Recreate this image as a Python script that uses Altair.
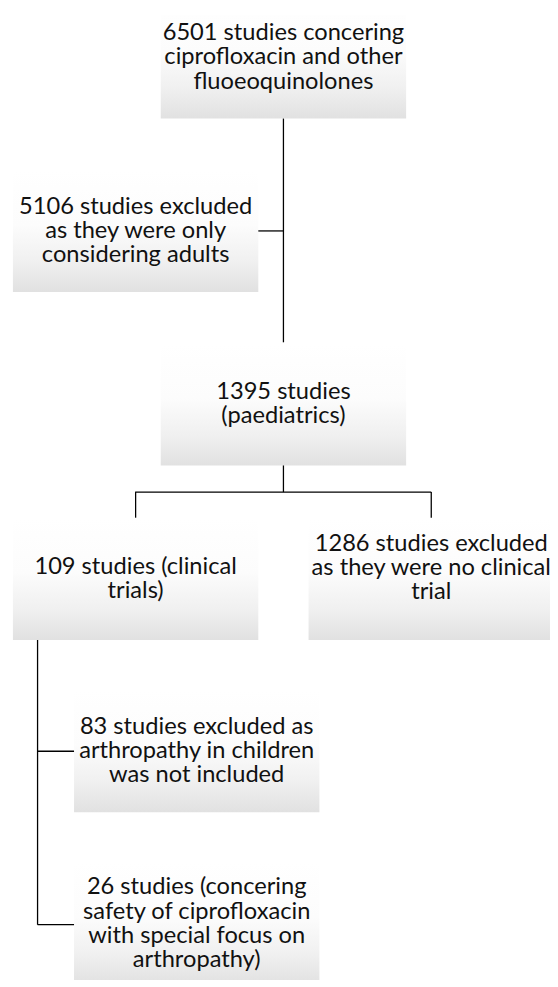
import altair as alt
import pandas as pd

# ---- content (text of each box) ----
labels = [
    "6501 studies concering\nciprofloxacin and other\nfluoeoquinolones",
    "5106 studies excluded\nas they were only\nconsidering adults",
    "1395 studies\n(paediatrics)",
    "109 studies (clinical\ntrials)",
    "1286 studies excluded\nas they were no clinical\ntrial",
    "83 studies excluded as\narthropathy in children\nwas not included",
    "26 studies (concering\nsafety of ciprofloxacin\nwith special focus on\narthropathy)",
]

# ---- layout (page pixel coordinates) ----
box_x0 = [163, 13, 163, 13, 313, 75, 75]
box_x1 = [412, 262, 412, 262, 562, 324, 324]
box_y0 = [-11, 165, 341, 518, 518, 693, 868]
box_y1 = [113, 289, 465, 642, 642, 817, 992]
text_dy = [0, 0, 0, 0, -11, 0, 0]

conn_x0 = [287.5, 262, 287.5, 137, 137.5, 437.5, 38, 38, 38]
conn_x1 = [287.5, 287.5, 287.5, 437.5, 137.5, 437.5, 38, 75, 75]
conn_y0 = [113, 227, 465, 492, 492, 492, 642, 755, 931]
conn_y1 = [340, 227, 492, 492, 518, 518, 931, 755, 931]

FS = 24
LH = 24.5
W, H = 550, 979
xs = alt.Scale(domain=[8, 8 + W], nice=False, zero=False)
ys = alt.Scale(domain=[8, 8 + H], nice=False, zero=False, reverse=True)

n_lines = [s.count("\n") + 1 for s in labels]
boxes = pd.DataFrame({
    "x": box_x0, "x2": box_x1, "y": box_y0, "y2": box_y1,
    "cx": [(a + b) / 2 for a, b in zip(box_x0, box_x1)],
    "cy": [(a + b) / 2 - (n - 1) * LH / 2 + d
           for a, b, n, d in zip(box_y0, box_y1, n_lines, text_dy)],
    "label": labels,
})
conns = pd.DataFrame({"x": conn_x0, "x2": conn_x1, "y": conn_y0, "y2": conn_y1})

grad = alt.Gradient(
    gradient="linear",
    stops=[
        alt.GradientStop(color="#ffffff", offset=0),
        alt.GradientStop(color="#fcfcfc", offset=0.45),
        alt.GradientStop(color="#f0f0f0", offset=0.75),
        alt.GradientStop(color="#e1e1e1", offset=1),
    ],
    x1=0, x2=0, y1=0, y2=1,
)

rects = alt.Chart(boxes).mark_rect(fill=grad, clip=True).encode(
    x=alt.X("x:Q", scale=xs, axis=None),
    x2="x2:Q",
    y=alt.Y("y:Q", scale=ys, axis=None),
    y2="y2:Q",
)

rules = alt.Chart(conns).mark_rule(color="black", strokeWidth=1.3, clip=True).encode(
    x=alt.X("x:Q", scale=xs, axis=None),
    x2="x2:Q",
    y=alt.Y("y:Q", scale=ys, axis=None),
    y2="y2:Q",
)

texts = alt.Chart(boxes).mark_text(
    font="Lato", fontSize=FS, lineHeight=LH, lineBreak="\n",
    align="center", baseline="middle", color="#111111",
).encode(
    x=alt.X("cx:Q", scale=xs, axis=None),
    y=alt.Y("cy:Q", scale=ys, axis=None),
    text="label:N",
)

chart = alt.layer(rects, rules, texts).properties(
    width=W, height=H, padding=0,
    autosize=alt.AutoSizeParams(type="none"),
).configure_view(stroke=None)

chart.save("out.html", embed_options={"renderer": "svg", "actions": False})
